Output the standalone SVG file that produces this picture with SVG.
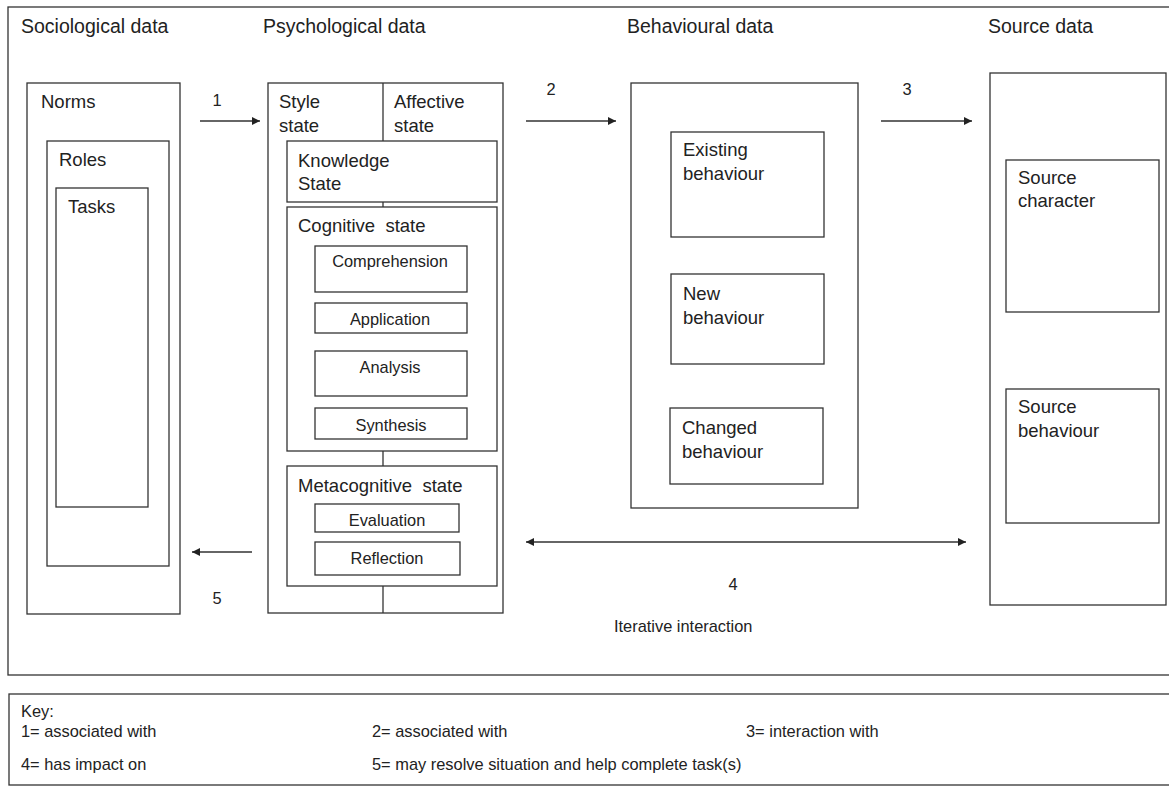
<svg xmlns="http://www.w3.org/2000/svg" width="1169" height="787" viewBox="0 0 1169 787">
<style>
.b{fill:#fff;stroke:#333;stroke-width:1.3}
.l{stroke:#333;stroke-width:1.3;fill:none}
text{font-family:"Liberation Sans",Arial,sans-serif;fill:#222}
.t{font-size:19.5px}
.m{font-size:18.5px}
.s{font-size:16.4px}
.c{text-anchor:middle}
</style>
<defs>
<marker id="ah" viewBox="0 0 10 10" refX="10" refY="5" markerWidth="9" markerHeight="8" markerUnits="userSpaceOnUse" orient="auto-start-reverse">
<path d="M0,0 L10,5 L0,10 z" fill="#222"/>
</marker>
</defs>
<rect width="1169" height="787" fill="#fff"/>
<g id="frame">
<rect class="b" x="8" y="7" width="1170" height="668"/>
<text class="t" x="21" y="33">Sociological data</text>
<text class="t" x="263" y="33">Psychological data</text>
<text class="t" x="627" y="33">Behavioural data</text>
<text class="t" x="988" y="33">Source data</text>
</g>
<g id="sociological">
<rect class="b" x="27" y="83" width="153" height="531"/>
<text class="m" x="41" y="108">Norms</text>
<rect class="b" x="47" y="141" width="122" height="425"/>
<text class="m" x="59" y="166">Roles</text>
<rect class="b" x="56" y="188" width="92" height="319"/>
<text class="m" x="68" y="213">Tasks</text>
</g>
<g id="psychological">
<rect class="b" x="268" y="83" width="235" height="530"/>
<line class="l" x1="383" y1="83" x2="383" y2="141"/>
<line class="l" x1="383" y1="202" x2="383" y2="207"/>
<line class="l" x1="383" y1="451" x2="383" y2="466"/>
<line class="l" x1="383" y1="586" x2="383" y2="613"/>
<text class="m" x="279" y="108">Style</text>
<text class="m" x="279" y="132">state</text>
<text class="m" x="394" y="108">Affective</text>
<text class="m" x="394" y="132">state</text>
<rect class="b" x="287" y="141" width="210" height="61"/>
<text class="m" x="298" y="167">Knowledge</text>
<text class="m" x="298" y="190">State</text>
<rect class="b" x="287" y="207" width="210" height="244"/>
<text class="m" x="298" y="232" xml:space="preserve">Cognitive  state</text>
<rect class="b" x="315" y="246" width="152" height="46"/>
<text class="s c" x="390" y="267">Comprehension</text>
<rect class="b" x="315" y="303" width="152" height="30"/>
<text class="s c" x="390" y="325">Application</text>
<rect class="b" x="315" y="351" width="152" height="45"/>
<text class="s c" x="390" y="373">Analysis</text>
<rect class="b" x="315" y="408" width="152" height="31"/>
<text class="s c" x="391" y="431">Synthesis</text>
<rect class="b" x="287" y="466" width="210" height="120"/>
<text class="m" x="298" y="492" xml:space="preserve">Metacognitive  state</text>
<rect class="b" x="315" y="504" width="144" height="28"/>
<text class="s c" x="387" y="526">Evaluation</text>
<rect class="b" x="315" y="542" width="145" height="33"/>
<text class="s c" x="387" y="564">Reflection</text>
</g>
<g id="behavioural">
<rect class="b" x="631" y="83" width="227" height="425"/>
<rect class="b" x="671" y="132" width="153" height="105"/>
<text class="m" x="683" y="156">Existing</text>
<text class="m" x="683" y="180">behaviour</text>
<rect class="b" x="671" y="274" width="153" height="90"/>
<text class="m" x="683" y="300">New</text>
<text class="m" x="683" y="324">behaviour</text>
<rect class="b" x="670" y="408" width="153" height="76"/>
<text class="m" x="682" y="434">Changed</text>
<text class="m" x="682" y="458">behaviour</text>
</g>
<g id="source">
<rect class="b" x="990" y="73" width="176" height="532"/>
<rect class="b" x="1006" y="160" width="153" height="152"/>
<text class="m" x="1018" y="184">Source</text>
<text class="m" x="1018" y="207">character</text>
<rect class="b" x="1006" y="389" width="153" height="134"/>
<text class="m" x="1018" y="413">Source</text>
<text class="m" x="1018" y="437">behaviour</text>
</g>
<g id="connectors">
<line class="l" x1="200" y1="121" x2="260" y2="121" marker-end="url(#ah)"/>
<text class="s c" x="217" y="106">1</text>
<line class="l" x1="526" y1="121" x2="616" y2="121" marker-end="url(#ah)"/>
<text class="s c" x="551" y="95">2</text>
<line class="l" x1="881" y1="121" x2="972" y2="121" marker-end="url(#ah)"/>
<text class="s c" x="907" y="95">3</text>
<line class="l" x1="526" y1="542" x2="966" y2="542" marker-start="url(#ah)" marker-end="url(#ah)"/>
<text class="s c" x="733" y="590">4</text>
<text class="s" x="614" y="632">Iterative interaction</text>
<line class="l" x1="252" y1="552" x2="192" y2="552" marker-end="url(#ah)"/>
<text class="s c" x="217" y="604">5</text>
</g>
<g id="key">
<rect class="b" x="9" y="694" width="1170" height="91"/>
<text class="s" x="21" y="717">Key:</text>
<text class="s" x="21" y="737">1= associated with</text>
<text class="s" x="372" y="737">2= associated with</text>
<text class="s" x="746" y="737">3= interaction with</text>
<text class="s" x="21" y="770">4= has impact on</text>
<text class="s" x="372" y="770">5= may resolve situation and help complete task(s)</text>
</g>
</svg>
